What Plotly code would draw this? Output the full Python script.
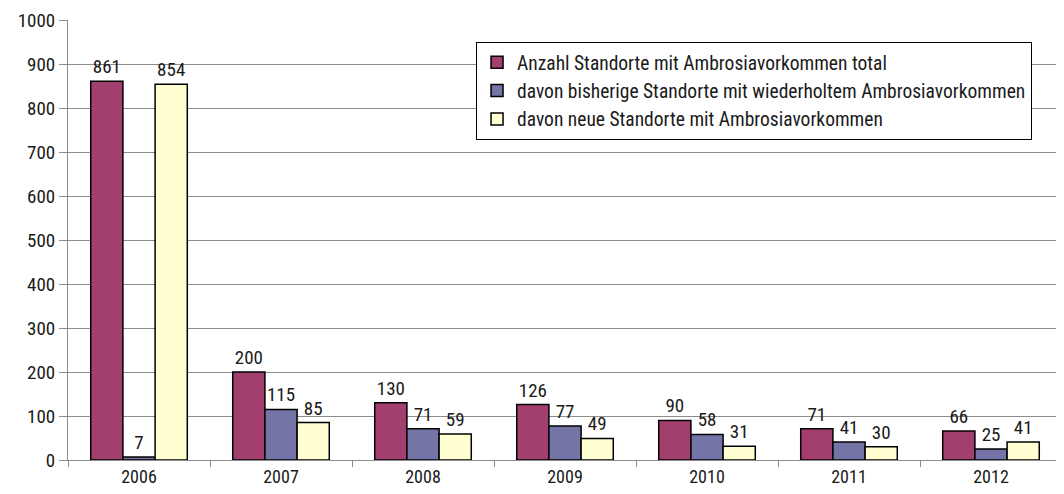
import plotly.graph_objects as go

years = ["2006", "2007", "2008", "2009", "2010", "2011", "2012"]
total = [861, 200, 130, 126, 90, 71, 66]
bisherige = [7, 115, 71, 77, 58, 41, 25]
neue = [854, 85, 59, 49, 31, 30, 41]

names = [
    "Anzahl Standorte mit Ambrosiavorkommen total",
    "davon bisherige Standorte mit wiederholtem Ambrosiavorkommen",
    "davon neue Standorte mit Ambrosiavorkommen",
]
colors = ["#A33F6F", "#7474A6", "#FFFFD2"]

FONT = "Roboto Condensed, Liberation Sans, sans-serif"
TXT = "#1a1a1a"
GRID = "#8c8c8c"

fig = go.Figure()
for name, vals, col in zip(names, [total, bisherige, neue], colors):
    fig.add_trace(go.Bar(
        x=years, y=vals, name=name,
        marker=dict(color=col, line=dict(color="#000000", width=1.5)),
        text=[str(v) for v in vals], textposition="outside",
        textfont=dict(size=19, color=TXT, family=FONT), cliponaxis=False,
    ))

fig.update_layout(
    width=1056, height=478,
    margin=dict(l=60, r=2, t=12, b=26),
    paper_bgcolor="white", plot_bgcolor="white",
    barmode="group", bargap=0.32, bargroupgap=0,
    font=dict(family=FONT, size=18, color=TXT),
    legend=dict(
        x=0.4105, y=0.95, xanchor="left", yanchor="top",
        bgcolor="white", bordercolor="#000", borderwidth=1,
        font=dict(size=19.5, family=FONT, color=TXT), tracegroupgap=0,
        itemwidth=30,
    ),
    showlegend=True,
)
fig.update_yaxes(
    range=[0, 1000], dtick=100, showgrid=True, gridcolor=GRID, gridwidth=1,
    showline=True, linecolor=GRID, linewidth=1, ticks="outside", ticklen=8,
    tickcolor=GRID, tickfont=dict(size=19), zeroline=False, mirror=False,
    automargin=False,
)
fig.update_xaxes(
    showline=True, linecolor=GRID, linewidth=1, ticks="outside", ticklen=6,
    tickcolor=GRID, tickson="boundaries", tickfont=dict(size=18),
    mirror=False, automargin=False,
)
fig.add_shape(type="line", xref="paper", yref="paper", x0=1, x1=1, y0=0, y1=1,
              line=dict(color=GRID, width=1))

fig.write_html("out.html")
